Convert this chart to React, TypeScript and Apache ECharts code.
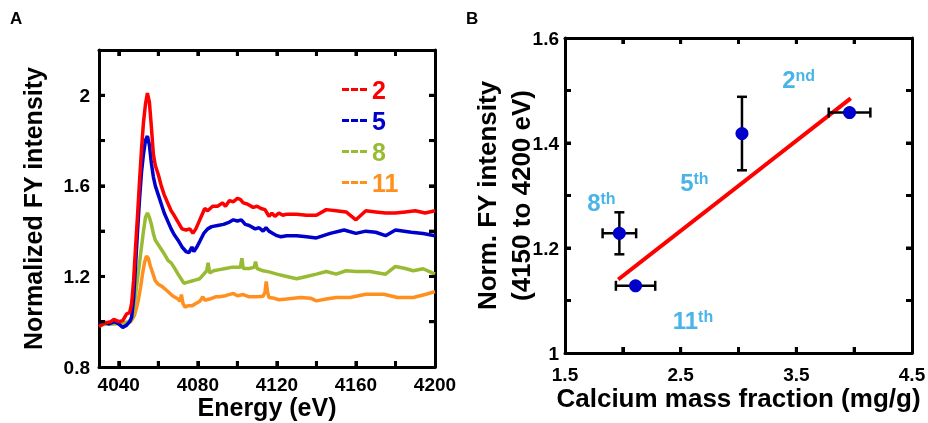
import React, { useEffect, useRef } from "react";
import * as echarts from "echarts";

// ---------- Panel A data: [energy (eV), normalized FY intensity] ----------
const seriesNames = ["2", "5", "8", "11"];
const seriesColors = ["#FF0000", "#0000CC", "#99BB33", "#FF9020"];

const red: number[][] = [
  [4030, 0.978], [4033, 0.995], [4036, 1.0], [4037.5, 1.01], [4040, 1.0], [4042, 1.005], [4044, 1.035],
  [4045.5, 1.04], [4046.5, 1.08], [4047.5, 1.18], [4048.5, 1.33], [4049.5, 1.47], [4050.5, 1.62],
  [4051.5, 1.76], [4052.5, 1.88], [4053.5, 1.96], [4054.5, 2.01], [4055.5, 1.97], [4056.5, 1.86],
  [4057.5, 1.74], [4058.5, 1.69], [4060, 1.65], [4061.5, 1.6], [4063, 1.56], [4065, 1.52], [4066.5, 1.49],
  [4068, 1.47], [4070, 1.44], [4072, 1.41], [4074, 1.405], [4076, 1.41], [4077.5, 1.39], [4079, 1.41],
  [4080.5, 1.44], [4082, 1.47], [4083.5, 1.5], [4085, 1.49], [4087.5, 1.51], [4090, 1.51], [4092.5, 1.525],
  [4094, 1.51], [4096, 1.535], [4098, 1.53], [4100, 1.545], [4101.5, 1.54], [4103, 1.525], [4105, 1.52],
  [4108, 1.505], [4110, 1.51], [4112, 1.5], [4114, 1.495], [4116, 1.465], [4117.5, 1.48], [4119, 1.465],
  [4121, 1.48], [4123, 1.47], [4125, 1.475], [4130, 1.475], [4135, 1.47], [4140, 1.47], [4145, 1.495],
  [4150, 1.49], [4155, 1.485], [4160, 1.45], [4165, 1.49], [4170, 1.485], [4175, 1.48], [4180, 1.48],
  [4185, 1.485], [4190, 1.49], [4195, 1.48], [4200, 1.49],
];

const blue: number[][] = [
  [4030, 0.99], [4032, 1.0], [4035, 0.99], [4038, 1.0], [4040, 0.99], [4042, 0.975], [4044, 0.985],
  [4045.5, 1.0], [4046.5, 1.02], [4047.5, 1.1], [4048.5, 1.25], [4049.5, 1.4], [4050.5, 1.54],
  [4051.5, 1.66], [4052.5, 1.74], [4053.5, 1.8], [4054.5, 1.82], [4055.5, 1.78], [4056.5, 1.7],
  [4057.5, 1.64], [4058.5, 1.6], [4060, 1.56], [4061.5, 1.52], [4063, 1.48], [4065, 1.44], [4066.5, 1.41],
  [4068, 1.385], [4070, 1.36], [4072, 1.33], [4074, 1.31], [4075.5, 1.305], [4077, 1.33], [4078, 1.31],
  [4079.5, 1.33], [4081, 1.355], [4083, 1.39], [4085, 1.41], [4087, 1.42], [4090, 1.425], [4093, 1.43],
  [4096, 1.44], [4098, 1.45], [4100, 1.445], [4102, 1.45], [4104, 1.43], [4106, 1.425], [4109, 1.41],
  [4111, 1.415], [4113, 1.4], [4114.5, 1.415], [4116, 1.4], [4118, 1.39], [4120, 1.38], [4122, 1.375],
  [4125, 1.38], [4130, 1.38], [4135, 1.375], [4140, 1.37], [4147, 1.39], [4154, 1.405], [4160, 1.39],
  [4165, 1.4], [4170, 1.395], [4175, 1.38], [4180, 1.405], [4188, 1.395], [4194, 1.39], [4200, 1.38],
];

const green: number[][] = [
  [4030, 0.985], [4034, 0.99], [4038, 0.99], [4042, 0.995], [4045, 1.0], [4046.5, 1.01], [4047.5, 1.05],
  [4048.5, 1.12], [4049.5, 1.19], [4050.5, 1.26], [4051.5, 1.33], [4052.5, 1.4], [4053.5, 1.46],
  [4054.5, 1.48], [4055.5, 1.46], [4056.5, 1.43], [4057.5, 1.39], [4058.5, 1.36], [4060, 1.34],
  [4061.5, 1.32], [4063, 1.3], [4065, 1.27], [4066.5, 1.26], [4068, 1.24], [4070, 1.21], [4071.5, 1.19],
  [4073, 1.17], [4075, 1.175], [4077, 1.18], [4079, 1.185], [4081, 1.19], [4083, 1.21], [4084.5, 1.225],
  [4085.2, 1.26], [4086, 1.215], [4088, 1.225], [4091, 1.23], [4094, 1.235], [4097, 1.24], [4100, 1.24],
  [4101.5, 1.24], [4102.3, 1.28], [4103, 1.235], [4106, 1.235], [4108.5, 1.24], [4109.2, 1.265],
  [4110, 1.235], [4113, 1.225], [4116, 1.22], [4120, 1.21], [4125, 1.2], [4130, 1.19], [4135, 1.2],
  [4140, 1.21], [4145, 1.222], [4150, 1.21], [4155, 1.225], [4160, 1.222], [4167, 1.222], [4175, 1.21],
  [4180, 1.244], [4185, 1.235], [4189, 1.225], [4194, 1.234], [4200, 1.21],
];

const orange: number[][] = [
  [4030, 0.99], [4035, 0.99], [4040, 0.995], [4044, 0.995], [4046, 1.0], [4047, 1.013], [4048, 1.03],
  [4049, 1.06], [4050, 1.1], [4051, 1.15], [4052, 1.21], [4053, 1.26], [4054, 1.29], [4055, 1.28],
  [4056, 1.245], [4057, 1.22], [4058.5, 1.18], [4060, 1.165], [4062, 1.155], [4064, 1.14], [4066.5, 1.12],
  [4068, 1.11], [4070, 1.1], [4071, 1.09], [4071.7, 1.12], [4072.5, 1.08], [4073.5, 1.065], [4075, 1.07],
  [4077, 1.07], [4079, 1.08], [4081, 1.09], [4082.5, 1.11], [4083.5, 1.095], [4086, 1.1], [4089, 1.11],
  [4091, 1.11], [4094, 1.115], [4098, 1.125], [4100, 1.115], [4103, 1.12], [4106, 1.11], [4110, 1.11],
  [4113, 1.112], [4114, 1.13], [4114.6, 1.178], [4115.3, 1.13], [4116, 1.107], [4118, 1.105], [4121, 1.097],
  [4125, 1.1], [4132, 1.107], [4137, 1.104], [4140, 1.092], [4145, 1.1], [4150, 1.107], [4157, 1.107],
  [4165, 1.121], [4174, 1.121], [4181, 1.107], [4189, 1.107], [4195, 1.12], [4200, 1.133],
];

const xRangeA = [4030, 4200];
const yRangeA = [0.8, 2.2];
const xTicksA = [4040, 4060, 4080, 4100, 4120, 4140, 4160, 4180];
const xLabelsA = [4040, 4080, 4120, 4160, 4200];
const yTicksA = [1.0, 1.2, 1.4, 1.6, 1.8, 2.0];
const yLabelsA = [0.8, 1.2, 1.6, 2];

// ---------- Panel B data ----------
const pointLabels = ["2nd", "5th", "8th", "11th"];
const caX = [3.96, 3.03, 1.97, 2.11];
const fyY = [1.458, 1.418, 1.228, 1.128];
const caXErr = [0.18, 0, 0.145, 0.17];
const fyYErr = [0, 0.07, 0.04, 0];
const fitX = [1.96, 3.97];
const fitY = [1.14, 1.485];
const labelX = [3.382, 2.5, 1.696, 2.436];
const labelY = [1.507, 1.31, 1.272, 1.048];

const xRangeB = [1.5, 4.5];
const yRangeB = [1, 1.6];
const xTicksB = [2, 2.5, 3, 3.5, 4];
const xLabelsB = [1.5, 2.5, 3.5, 4.5];
const yTicksB = [1.1, 1.2, 1.3, 1.4, 1.5];
const yLabelsB = [1, 1.2, 1.4, 1.6];

const FONT = "'Liberation Sans', Arial, sans-serif";
const LABEL_BLUE = "#1BA1E2";

export default function App() {
  const ref = useRef<HTMLDivElement>(null);

  useEffect(() => {
    if (!ref.current) return;
    const chart = echarts.init(ref.current, undefined, { renderer: "svg" });

    const frameLine = { show: true, lineStyle: { color: "#000", width: 3 } };
    const label = (vals: number[], margin: number) => ({
      show: true,
      customValues: vals,
      color: "#000",
      fontFamily: FONT,
      fontWeight: "bold" as const,
      fontSize: 19,
      margin,
      formatter: (v: number) => String(Math.round(v * 1000) / 1000),
    });
    const nameStyle = { color: "#000", fontFamily: FONT, fontWeight: "bold" as const, fontSize: 25 };
    const tick = { show: true, inside: true, length: 6, lineStyle: { color: "#000", width: 3 } };

    const lineSeries = [red, blue, green, orange].map((d, i) => ({
      name: seriesNames[i],
      type: "line" as const,
      xAxisIndex: 0,
      yAxisIndex: 0,
      data: d,
      showSymbol: false,
      symbol: "none",
      color: seriesColors[i],
      lineStyle: { color: seriesColors[i], width: 3.5 },
      z: 4 - i,
    }));

    const errData = caX.map((x, i) => [x, fyY[i], caXErr[i], fyYErr[i]]);

    const panelLetters: any[] = [
      { type: "text", left: 10, top: 10, style: { text: "A", fontFamily: FONT, fontWeight: "bold", fontSize: 17, fill: "#000" } },
      { type: "text", left: 466, top: 10, style: { text: "B", fontFamily: FONT, fontWeight: "bold", fontSize: 17, fill: "#000" } },
    ];

    chart.setOption({
      animation: false,
      grid: [
        { left: 99, top: 50, width: 336, height: 317, outerBoundsMode: "none", containLabel: false },
        { left: 565, top: 38, width: 347, height: 315, outerBoundsMode: "none", containLabel: false },
      ],
      legend: {
        left: 337,
        top: 72,
        orient: "vertical",
        itemWidth: 25,
        itemHeight: 3,
        itemGap: 6,
        selectedMode: false,
        icon: "path://M0,0h7v3h-7zM9,0h7v3h-7zM18,0h7v3h-7z",
        data: seriesNames.map((n, i) => ({
          name: n,
          textStyle: { color: seriesColors[i] },
        })),
        textStyle: { fontFamily: FONT, fontWeight: "bold", fontSize: 25, lineHeight: 25 },
      },
      xAxis: [
        {
          type: "value", gridIndex: 0, min: xRangeA[0], max: xRangeA[1], splitNumber: 8, position: "bottom",
          axisLine: frameLine, axisTick: tick, axisLabel: label(xLabelsA, 8), splitLine: { show: false },
          name: "Energy (eV)", nameLocation: "middle", nameGap: 27, nameMoveOverlap: false,
          nameTextStyle: { ...nameStyle, lineHeight: 26 },
        },
        {
          type: "value", gridIndex: 0, min: xRangeA[0], max: xRangeA[1], splitNumber: 8, position: "top",
          axisLine: frameLine, axisTick: tick, axisLabel: { show: false }, splitLine: { show: false },
        },
        {
          type: "value", gridIndex: 1, min: xRangeB[0], max: xRangeB[1], splitNumber: 6, position: "bottom",
          axisLine: frameLine, axisTick: tick, axisLabel: label(xLabelsB, 12), splitLine: { show: false },
          name: "Calcium mass fraction (mg/g)", nameLocation: "middle", nameGap: 32, nameMoveOverlap: false,
          nameTextStyle: { ...nameStyle, fontSize: 26 },
        },
        {
          type: "value", gridIndex: 1, min: xRangeB[0], max: xRangeB[1], splitNumber: 6, position: "top",
          axisLine: frameLine, axisTick: tick, axisLabel: { show: false }, splitLine: { show: false },
        },
      ],
      yAxis: [
        {
          type: "value", gridIndex: 0, min: yRangeA[0], max: yRangeA[1], splitNumber: 7, position: "left",
          axisLine: frameLine, axisTick: tick, axisLabel: label(yLabelsA, 9), splitLine: { show: false },
          name: "Normalized FY intensity", nameLocation: "middle", nameGap: 54, nameMoveOverlap: false,
          nameTextStyle: nameStyle,
        },
        {
          type: "value", gridIndex: 0, min: yRangeA[0], max: yRangeA[1], splitNumber: 7, position: "right",
          axisLine: frameLine, axisTick: tick, axisLabel: { show: false }, splitLine: { show: false },
        },
        {
          type: "value", gridIndex: 1, min: yRangeB[0], max: yRangeB[1], splitNumber: 6, position: "left",
          axisLine: frameLine, axisTick: tick, axisLabel: label(yLabelsB, 6), splitLine: { show: false },
          name: "Norm. FY intensity\n(4150 to 4200 eV)", nameLocation: "middle", nameGap: 27, nameMoveOverlap: false,
          nameTextStyle: { ...nameStyle, fontSize: 26, lineHeight: 34 },
        },
        {
          type: "value", gridIndex: 1, min: yRangeB[0], max: yRangeB[1], splitNumber: 6, position: "right",
          axisLine: frameLine, axisTick: tick, axisLabel: { show: false }, splitLine: { show: false },
        },
      ],
      graphic: { elements: panelLetters },
      series: [
        ...lineSeries,
        {
          name: "fit",
          type: "line",
          xAxisIndex: 2,
          yAxisIndex: 2,
          data: fitX.map((x, i) => [x, fitY[i]]),
          symbol: "none",
          lineStyle: { color: "#FF0000", width: 4 },
          z: 2,
        },
        {
          name: "err",
          type: "custom",
          xAxisIndex: 2,
          yAxisIndex: 2,
          data: errData,
          encode: { x: 0, y: 1 },
          z: 3,
          renderItem: (_params: any, api: any) => {
            const x = api.value(0);
            const y = api.value(1);
            const xe = api.value(2);
            const ye = api.value(3);
            const cap = 5;
            const style = { stroke: "#000", lineWidth: 2.5 };
            const children: any[] = [];
            if (xe > 0) {
              const l = api.coord([x - xe, y]);
              const r = api.coord([x + xe, y]);
              children.push({ type: "line", shape: { x1: l[0], y1: l[1], x2: r[0], y2: r[1] }, style });
              children.push({ type: "line", shape: { x1: l[0], y1: l[1] - cap, x2: l[0], y2: l[1] + cap }, style });
              children.push({ type: "line", shape: { x1: r[0], y1: r[1] - cap, x2: r[0], y2: r[1] + cap }, style });
            }
            if (ye > 0) {
              const t = api.coord([x, y + ye]);
              const b = api.coord([x, y - ye]);
              children.push({ type: "line", shape: { x1: t[0], y1: t[1], x2: b[0], y2: b[1] }, style });
              children.push({ type: "line", shape: { x1: t[0] - cap, y1: t[1], x2: t[0] + cap, y2: t[1] }, style });
              children.push({ type: "line", shape: { x1: b[0] - cap, y1: b[1], x2: b[0] + cap, y2: b[1] }, style });
            }
            return { type: "group", children };
          },
        },
        {
          name: "points",
          type: "scatter",
          xAxisIndex: 2,
          yAxisIndex: 2,
          data: caX.map((x, i) => [x, fyY[i]]),
          symbol: "circle",
          symbolSize: 13,
          itemStyle: { color: "#0000CC", opacity: 1 },
          z: 5,
        },
        {
          name: "labels",
          type: "scatter",
          xAxisIndex: 2,
          yAxisIndex: 2,
          data: labelX.map((x, i) => ({ value: [x, labelY[i]], name: pointLabels[i] })),
          symbolSize: 1,
          itemStyle: { color: "rgba(0,0,0,0)" },
          silent: true,
          z: 6,
          label: {
            show: true,
            position: [0, 0],
            offset: [0, 5],
            align: "left",
            verticalAlign: "bottom",
            formatter: (p: any) => {
              const s: string = p.name;
              const m = s.match(/^(\d+)(\D+)$/);
              return m ? `{b|${m[1]}}{s|${m[2]}}` : s;
            },
            rich: {
              b: { fontFamily: FONT, fontWeight: "bold", fontSize: 24, color: LABEL_BLUE, verticalAlign: "bottom", lineHeight: 24 },
              s: { fontFamily: FONT, fontWeight: "bold", fontSize: 16, color: LABEL_BLUE, verticalAlign: "top", lineHeight: 10 },
            },
          },
        },
      ],
    });

    // inward tick marks placed through the axes' own scales (same spots as the axis ticks)
    const len = 6;
    const ticks: any[] = [];
    const toPx = (xi: number, yi: number, p: number[]): number[] | null => {
      const r = chart.convertToPixel({ xAxisIndex: xi, yAxisIndex: yi } as any, p) as any;
      return Array.isArray(r) && isFinite(r[0]) && isFinite(r[1]) ? r : null;
    };
    const seg = (x1: number, y1: number, x2: number, y2: number) => ({
      type: "line",
      z: 100,
      silent: true,
      shape: { x1, y1, x2, y2 },
      style: { stroke: "#000", lineWidth: 3 },
    });
    const addTicks = (axisIdx: number, xr: number[], yr: number[], xt: number[], yt: number[]) => {
      xt.forEach((v) => {
        const b = toPx(axisIdx, axisIdx, [v, yr[0]]);
        const t = toPx(axisIdx, axisIdx, [v, yr[1]]);
        if (b) ticks.push(seg(b[0], b[1], b[0], b[1] - len));
        if (t) ticks.push(seg(t[0], t[1], t[0], t[1] + len));
      });
      yt.forEach((v) => {
        const l = toPx(axisIdx, axisIdx, [xr[0], v]);
        const r = toPx(axisIdx, axisIdx, [xr[1], v]);
        if (l) ticks.push(seg(l[0], l[1], l[0] + len, l[1]));
        if (r) ticks.push(seg(r[0], r[1], r[0] - len, r[1]));
      });
    };
    addTicks(0, xRangeA, yRangeA, xTicksA, yTicksA);
    addTicks(2, xRangeB, yRangeB, xTicksB, yTicksB);
    chart.setOption({ graphic: { elements: [...panelLetters, ...ticks] } });

    return () => chart.dispose();
  }, []);

  return <div ref={ref} style={{ position: "fixed", left: 0, top: 0, width: 928, height: 423 }} />;
}
